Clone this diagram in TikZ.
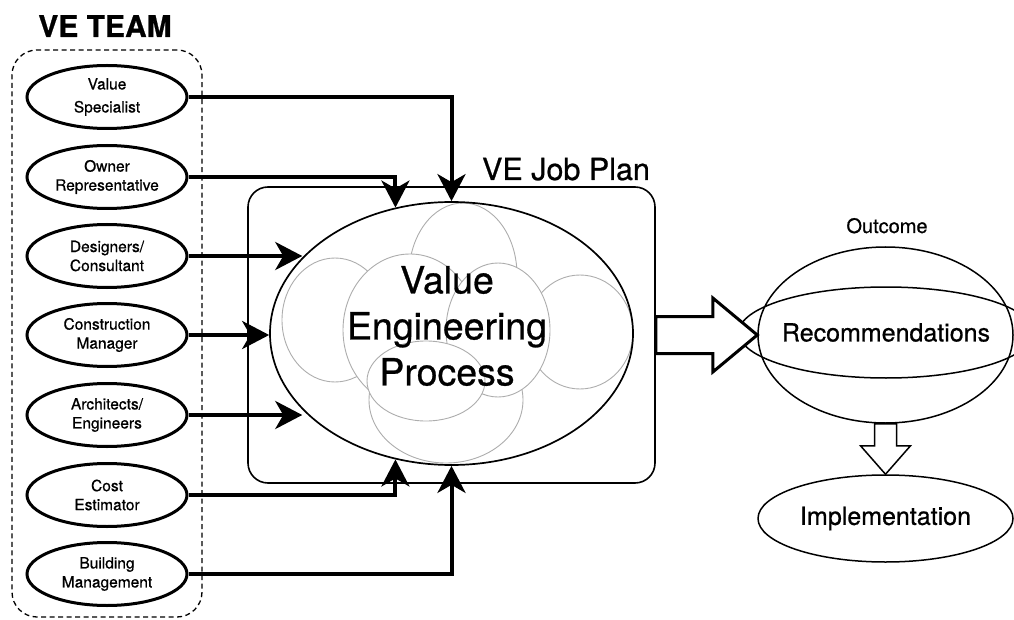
\documentclass[tikz,border=0pt]{standalone}
\usepackage{fontspec}
\setmainfont{TeX Gyre Heros}[FakeBold=0.7]
\usetikzlibrary{arrows.meta,shapes.geometric,calc}

\tikzset{
  member/.style={ellipse, draw, line width=3pt, minimum width=160pt, minimum height=63pt,
    inner sep=0pt, align=center, font=\fontsize{15.5}{19}\selectfont},
  feed/.style={line width=4pt, -{Stealth[length=27pt,width=28pt,inset=8pt]}},
  lobe/.style={draw=black!32, fill=white, line width=0.9pt},
  hollow/.style={draw, fill=white, line join=miter},
  outline/.style={ellipse, draw, line width=1.5pt, inner sep=0pt},
}

\begin{document}
\begin{tikzpicture}[x=1pt, y=-1pt]
  \useasboundingbox (0,0) rectangle (1014,620);

  % team
  \node[anchor=base, font=\fontsize{30}{36}\selectfont\bfseries] (title) at (105,37) {VE TEAM};
  \node[draw, dashed, dash pattern=on 5pt off 3.5pt, line width=1.3pt, rounded corners=25pt,
        minimum width=190pt, minimum height=567pt, inner sep=0pt] (team) at (107,333.5) {};

  \node[member, font=\fontsize{15.5}{23}\selectfont] (vs) at (107,97)  {Value\\Specialist};
  \node[member] (ow) at (107,177) {Owner\\Representative};
  \node[member] (dc) at (107,256) {Designers/\\Consultant};
  \node[member] (cm) at (107,335) {Construction\\Manager};
  \node[member] (ae) at (107,415) {Architects/\\Engineers};
  \node[member] (ce) at (107,495) {Cost\\Estimator};
  \node[member] (bm) at (107,574) {Building\\Management};

  % job plan frame
  \node[draw, line width=1.6pt, rounded corners=20pt, minimum width=407pt, minimum height=296pt,
        inner sep=0pt] (jp) at (451.5,335) {};
  \node[anchor=base, font=\fontsize{30.5}{36}\selectfont] (jplabel) at (566,180) {VE Job Plan};

  % overlapping lobes of the process cloud
  \draw[lobe] (463,275) ellipse [x radius=54, y radius=72];
  \draw[lobe] (335,320) ellipse [x radius=53, y radius=62];
  \draw[lobe] (580,332) ellipse [x radius=53, y radius=57];
  \draw[lobe] (446,400) ellipse [x radius=77, y radius=63];
  \draw[lobe] (410,330) ellipse [x radius=67, y radius=76];
  \draw[lobe] (498,330) ellipse [x radius=52, y radius=67];
  \draw[lobe] (426,381) ellipse [x radius=59, y radius=40];

  \node[outline, line width=1.7pt, minimum width=363pt, minimum height=263pt] (vep) at (451.5,333.5) {};
  \node[align=center, font=\fontsize{37.5}{46}\selectfont] (veptext) at (447,326)
       {Value\\Engineering\\Process};

  % team inputs
  \draw[feed] (vs.east) -| (vep.north);
  \draw[feed] (ow.east) -| (vep.114);
  \draw[feed] (dc.east) -- (dc.east -| vep.153);
  \draw[feed] (cm.east) -- (cm.east -| vep.west);
  \draw[feed] (ae.east) -- (ae.east -| vep.207);
  \draw[feed] (ce.east) -| (vep.246);
  \draw[feed] (bm.east) -| (vep.south);

  % outcome
  \node[font=\fontsize{20}{24}\selectfont, anchor=base] (oclabel) at (887,233) {Outcome};
  \node[outline, minimum width=255pt, minimum height=176pt] (oc) at (885.5,335) {};
  \node[outline, minimum width=252pt, minimum height=91pt, font=\fontsize{25}{30}\selectfont]
       (rec) at (886,332.5) {Recommendations};
  \node[outline, minimum width=255pt, minimum height=87pt, font=\fontsize{25}{30}\selectfont]
       (im) at (885.5,518.5) {Implementation};

  % block arrows
  \draw[hollow, line width=3pt]
    ($(jp.east)+(0,-18.5)$) -- ++(57,0) -- ++(0,-18.5) -- (oc.west)
    -- ($(jp.east)+(57,37)$) -- ++(0,-18.5) -- ($(jp.east)+(0,18.5)$) -- cycle;
  \draw[hollow, line width=1.5pt]
    ($(oc.south)+(-11,0)$) -- ++(0,22) -- ++(-14,0) -- (im.north)
    -- ($(oc.south)+(25,22)$) -- ++(-14,0) -- ($(oc.south)+(11,0)$) -- cycle;
\end{tikzpicture}
\end{document}
